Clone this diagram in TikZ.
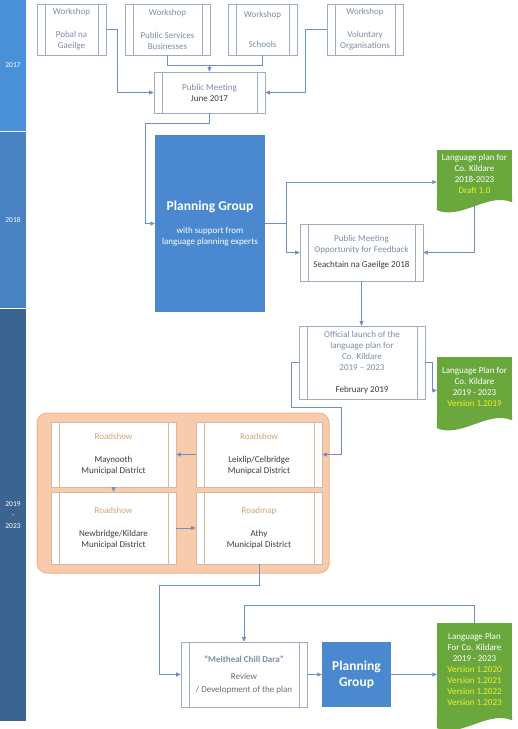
\documentclass[tikz,border=0pt]{standalone}
\usepackage{fontspec}
\setmainfont{Carlito}
\usepackage{tikz}
\usetikzlibrary{arrows.meta,positioning,calc}
\usepackage{xcolor}
\definecolor{kildareblue}{RGB}{74,137,207}
\definecolor{year17}{RGB}{74,144,217}
\definecolor{year18}{RGB}{72,130,194}
\definecolor{year19}{RGB}{59,101,144}
\definecolor{boxline}{RGB}{160,172,192}
\definecolor{boxtext}{RGB}{125,141,163}
\definecolor{darktext}{RGB}{60,60,60}
\definecolor{midtext}{RGB}{110,110,110}
\definecolor{connline}{RGB}{112,143,190}
\definecolor{docgreen}{RGB}{106,168,61}
\definecolor{docyellow}{RGB}{235,240,40}
\definecolor{roadfill}{RGB}{248,203,173}
\definecolor{roadedge}{RGB}{241,180,138}
\definecolor{roadline}{RGB}{214,184,160}
\definecolor{roadtitle}{RGB}{214,162,115}

\begin{document}
\begin{tikzpicture}[x=1pt,y=-1pt,
    >={Triangle[length=4.5pt,width=4pt]},
    txt/.style={font=\fontsize{9}{11}\selectfont},
    yearbar/.style={fill=#1,minimum width=26,inner sep=0pt,text=white,align=center,font=\fontsize{7.5}{11}\selectfont},
    procbox/.style={draw=#1,line width=0.6pt,fill=white,inner sep=0pt,align=center,text=boxtext,txt,
      path picture={\draw[#1,line width=0.6pt]
        ([xshift=8pt]path picture bounding box.north west) -- ([xshift=8pt]path picture bounding box.south west)
        ([xshift=-8pt]path picture bounding box.north east) -- ([xshift=-8pt]path picture bounding box.south east);}},
    procbox/.default=boxline,
    roadbox/.style={procbox=roadline,text=darktext},
    groupbox/.style={fill=kildareblue,inner sep=0pt,align=center,text=white,txt},
    docbox/.style={fill=docgreen,inner sep=0pt,align=center,text=white,txt,minimum width=75},
    conn/.style={draw=connline,line width=0.6pt}]
    \useasboundingbox (0,0) rectangle (518,729);

    \node[yearbar=year17,minimum height=131] (y17) at (13,65.5) {2017};
    \node[yearbar=year18,minimum height=176] (y18) at (13,220) {2018};
    \node[yearbar=year19,minimum height=412] (y19) at (13,515) {2019\\-\\2023};

    \node[procbox,minimum width=69,minimum height=51] (ws1) at (71.5,29.5) {Workshop\\[12pt]Pobal na\\Gaeilge};
    \node[procbox,minimum width=85,minimum height=51] (ws2) at (167.5,29.5) {Workshop\\[12pt]Public Services\\Businesses};
    \node[procbox,minimum width=69,minimum height=51] (ws3) at (262.5,29.5) {Workshop\\[19pt]Schools};
    \node[procbox,minimum width=76,minimum height=51] (ws4) at (365,29.5) {Workshop\\[12pt]Voluntary\\Organisations};
    \node[procbox,minimum width=111,minimum height=41] (pm1) at (209.5,92.5) {Public Meeting\\\textcolor{darktext}{June 2017}};

    \node[groupbox,minimum width=110,minimum height=177] (pg1) at (210,223.5)
        {{\fontsize{13.5}{16}\selectfont\bfseries Planning Group}\\[12pt]with support from\\language planning experts};
    \node[procbox,minimum width=123,minimum height=57] (pm2) at (361.5,252.5)
        {Public Meeting\\Opportunity for Feedback\\[4pt]\textcolor{darktext}{Seachtain na Gaeilge 2018}};
    \node[procbox,minimum width=126,minimum height=73] (launch) at (362,362.5)
        {Official launch of the\\language plan for\\Co. Kildare\\2019 -- 2023\\[11pt]\textcolor{darktext}{February 2019}};

    \node[docbox,minimum height=48] (doc1) at (474.5,174)
        {Language plan for\\Co. Kildare\\2018-2023\\\textcolor{docyellow}{Draft 1.0}};
    \node[docbox,minimum height=59] (doc2) at (474.5,386.5)
        {Language Plan for\\Co. Kildare\\2019 - 2023\\\textcolor{docyellow}{Version 1.2019}};
    \node[docbox,minimum height=93] (doc3) at (474.5,669.5)
        {Language Plan\\For Co. Kildare\\2019 - 2023\\\textcolor{docyellow}{Version 1.2020}\\\textcolor{docyellow}{Version 1.2021}\\\textcolor{docyellow}{Version 1.2022}\\\textcolor{docyellow}{Version 1.2023}};
    \foreach \d in {doc1,doc2,doc3}
        \fill[docgreen] (\d.south east) ++(0,-1) -- ++(0,5) .. controls +(-25,-10) and +(25,10) .. ($(\d.south west)+(0,12)$) -- ($(\d.south west)+(0,-1)$) -- cycle;

    \node[draw=roadedge,fill=roadfill,line width=1pt,rounded corners=10pt,minimum width=292,minimum height=160] (roadgrp) at (183,493) {};
    \node[roadbox,minimum width=125,minimum height=65] (mayn) at (113.5,454.5)
        {\textcolor{roadtitle}{Roadshow}\\[12pt]Maynooth\\Municipal District};
    \node[roadbox,minimum width=126,minimum height=65] (leix) at (259,454.5)
        {\textcolor{roadtitle}{Roadshow}\\[12pt]Leixlip/Celbridge\\Munipcal District};
    \node[roadbox,minimum width=125,minimum height=72] (newb) at (113.5,528)
        {\textcolor{roadtitle}{Roadshow}\\[12pt]Newbridge/Kildare\\Municipal District};
    \node[roadbox,minimum width=126,minimum height=72] (athy) at (259,528)
        {\textcolor{roadtitle}{Roadmap}\\[12pt]Athy\\Municipal District};

    \node[procbox,minimum width=126,minimum height=65,text=midtext] (meit) at (244,674.5)
        {\textcolor{boxtext}{\bfseries “Meitheal Chill Dara”}\\[6pt]Review\\[2pt]/ Development of the plan};
    \node[groupbox,minimum width=69,minimum height=65,font=\fontsize{13.5}{16}\selectfont\bfseries] (pg2) at (356.5,674.5) {Planning\\Group};

    \draw[conn,->] (ws1.east) -- ++(11,0) |- (pm1.west);
    \draw[conn] (ws2.south) -- ++(0,10) -| (ws3.south);
    \draw[conn,->] (pm1.north) ++(0,-7) -- (pm1.north);
    \draw[conn,->] (ws4.west) -- ++(-21,0) |- (pm1.east);
    \draw[conn,->] (pm1.south) -- ++(0,10) -| ($(pg1.west)+(-10,0)$) -- (pg1.west);
    \draw[conn,->] (pg1.east) -- ++(21,0) |- ([yshift=-8pt]doc1.west);
    \draw[conn,->] (pg1.east) ++(21,0) |- (pm2.west);
    \draw[conn,->] ([yshift=-8pt]doc1.south) |- (pm2.east);
    \draw[conn,->] (pm2.south) -- (pm2.south |- launch.north);
    \draw[conn,->] (launch.east) -- ++(7,0) |- ([yshift=-4pt]doc2.west);
    \draw[conn,->] (launch.west) -- ++(-7,0) -- ++(0,44.5) -- ++(50,0) |- (leix.east);
    \draw[conn,->] (leix.west) -- (mayn.east);
    \draw[conn,->] (mayn.south) -- (newb.north);
    \draw[conn,->] (newb.east) -- (athy.west);
    \draw[conn,->] (athy.south) -- ++(0,21) -| ($(meit.west)+(-21,0)$) -- (meit.west);
    \draw[conn,->] (meit.east) -- (pg2.west);
    \draw[conn,->] (pg2.east) -- (pg2.east -| doc3.west);
    \draw[conn,->] (doc3.north) -- ++(0,-18) -| (meit.north);
\end{tikzpicture}
\end{document}
